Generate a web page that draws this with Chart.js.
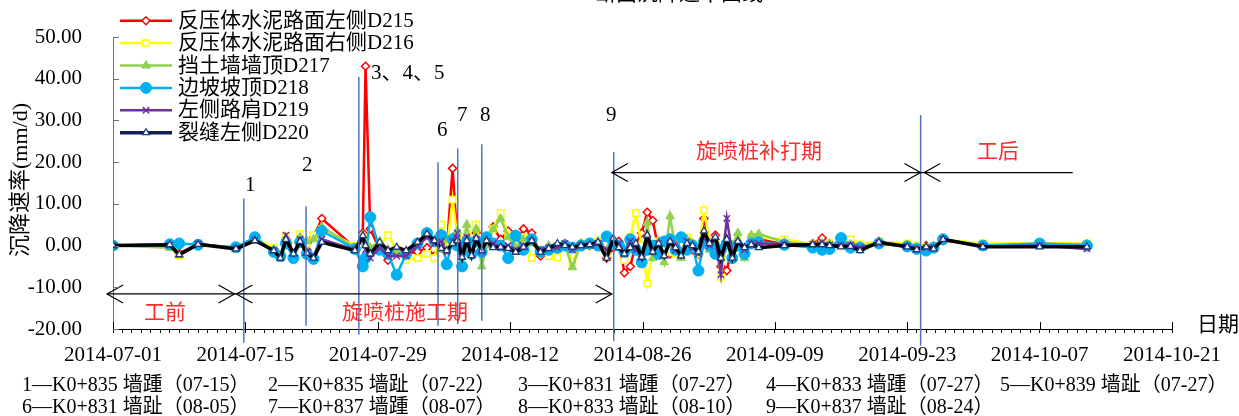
<!DOCTYPE html>
<html><head><meta charset="utf-8">
<script src="https://cdn.jsdelivr.net/npm/chart.js@4.4.1/dist/chart.umd.min.js"></script>
<style>
html,body{margin:0;padding:0;background:#fff;}
#wrap{position:relative;width:1239px;height:416px;overflow:hidden;font-family:"Liberation Serif","Noto Sans CJK SC",serif;}
canvas{position:absolute;left:0;top:0;}
.t{position:absolute;white-space:nowrap;line-height:1;font-size:21px;color:#000;}
.f{font-size:20px;}
.red{color:#ff2a2a;}
</style></head>
<body><div id="wrap"><canvas id="c" width="1239" height="416"></canvas>
<div class="t" style="left:436px;top:-17px;">K0+830～K0+840断面沉降速率曲线</div>
<div class="t" style="left:178px;top:10px;">反压体水泥路面左侧D215</div>
<div class="t" style="left:178px;top:32px;">反压体水泥路面右侧D216</div>
<div class="t" style="left:178px;top:55px;">挡土墙墙顶D217</div>
<div class="t" style="left:178px;top:77px;">边坡坡顶D218</div>
<div class="t" style="left:178px;top:99px;">左侧路肩D219</div>
<div class="t" style="left:178px;top:122px;">裂缝左侧D220</div>
<div class="t" style="left:245px;top:174px;">1</div>
<div class="t" style="left:302px;top:154px;">2</div>
<div class="t" style="left:371px;top:62px;">3、4、5</div>
<div class="t" style="left:437px;top:119px;">6</div>
<div class="t" style="left:457px;top:104px;">7</div>
<div class="t" style="left:480px;top:104px;">8</div>
<div class="t" style="left:606px;top:104px;">9</div>
<div class="t red" style="left:144px;top:302px;">工前</div>
<div class="t red" style="left:342px;top:302px;">旋喷桩施工期</div>
<div class="t red" style="left:696px;top:141px;">旋喷桩补打期</div>
<div class="t red" style="left:977px;top:141px;">工后</div>
<div class="t" style="left:1197px;top:314px;">日期</div>
<div class="t" style="left:20px;top:180px;font-size:22px;transform:translate(-50%,-50%) rotate(-90deg);">沉降速率(mm/d)</div>
<div class="t f" style="left:22px;top:374px;">1—K0+835 墙踵（07-15）</div>
<div class="t f" style="left:268px;top:374px;">2—K0+835 墙趾（07-22）</div>
<div class="t f" style="left:518px;top:374px;">3—K0+831 墙踵（07-27）</div>
<div class="t f" style="left:766px;top:374px;">4—K0+833 墙踵（07-27）</div>
<div class="t f" style="left:1000px;top:374px;">5—K0+839 墙趾（07-27）</div>
<div class="t f" style="left:22px;top:396px;">6—K0+831 墙趾（08-05）</div>
<div class="t f" style="left:268px;top:396px;">7—K0+837 墙踵（08-07）</div>
<div class="t f" style="left:518px;top:396px;">8—K0+833 墙趾（08-10）</div>
<div class="t f" style="left:766px;top:396px;">9—K0+837 墙趾（08-24）</div>
</div>
<script>
const dates = ['07-01 00','07-07 00','07-08 00','07-10 00','07-14 00','07-16 00','07-18 00','07-18 17','07-19 07','07-20 02','07-20 19','07-21 12','07-22 05','07-23 02',
'07-26 14','07-27 10','07-27 17','07-28 05','07-29 05','07-30 02','07-31 00','08-01 00','08-02 05','08-03 05','08-04 00','08-04 17','08-05 07','08-05 22','08-06 10','08-06 22','08-07 10','08-07 22','08-08 10','08-09 00','08-09 12','08-10 05',
'08-11 00','08-11 19','08-12 14','08-13 10','08-14 07','08-15 05','08-16 02','08-17 00','08-17 19','08-18 14','08-19 12','08-20 10','08-21 07','08-22 05','08-22 22',
'08-23 12','08-24 02','08-24 17','08-25 07','08-25 22','08-26 12','08-27 02','08-27 17','08-28 07','08-28 22','08-29 12','08-30 02','08-30 17','08-31 07','08-31 22','09-01 12','09-02 02','09-02 17','09-03 07','09-03 22','09-04 12','09-05 02','09-05 19','09-06 12',
'09-07 07','09-10 00','09-13 00','09-14 00','09-14 19','09-16 00','09-17 00','09-18 00','09-20 00','09-23 00','09-24 00','09-25 00','09-25 19','09-26 19','10-01 00','10-07 00','10-12 00'];

const D215 = [0,0,-1.8,0.3,-0.6,1.5,-0.8,-2.5,1.5,-1,1.5,-1,2,6.5,
-0.5,3,43,4,-1,-3.5,-1,-2,-1.5,-0.5,-2.5,2,-1,18.5,1,-1,2,-1.5,3,-1,0.5,4.5,
1.5,3.5,0.5,4,3,-2.5,-0.5,-1,0.5,-0.5,0,0,0.5,-3,-0.5,
1,-6.5,-5,0.5,3,8,6,-1,1,-2,0,-1.5,1.5,-1,-2,6.5,1,2.5,-5,-6,0,0.5,-1,1,
1.5,0.3,0.5,1.8,0.5,0.3,0.5,0,1,0.2,-0.5,0,-0.5,1.2,0,0.5,0.3];
const D216 = [0,-0.3,-2.3,0.5,-0.8,1.8,-0.5,-2.2,2.2,0,2.8,0.5,2.5,4,
0,2,1,-1,0,2.5,-1,-3.5,-3,-2,-3,5,-1,11,2,-1.5,3,-2,5,-1,1,4,
7.8,2.5,0,2,-3,-1,-2.5,-2.8,0,-4,0.5,0,1,-2,0.5,
0,-3.5,2,7.8,0,-9,-1,1,-2,-1,-2,-1.5,2,0.5,-2,8.5,1,1.5,-7.5,2,-1,1,-1.5,2,
2,1.5,0.3,0.5,0.5,0,1.5,0.3,1,0.5,0,-0.3,-0.5,1.5,0.5,0.5,0.5];
const D217 = [0,-0.5,-2.2,0.3,-0.5,1.2,-1,-2.8,1,-2.5,2,1,1.5,4.5,
-0.5,1,0.5,-0.5,1,-1,-1.5,-2,0.5,2,1,-1,1.5,2,3.5,-1,5,-1.5,4,-5,0,4,
6.5,2,-0.5,1.5,0.5,-1.5,0,-1,0,-5.2,0.5,0,1,-1,1,
0,-1,1,0,-4.5,5.5,-3,1,-4,7,-1,-3,1.5,0.5,-1.5,2,-1,1,-2,1,0,3,-3,2.5,
2.8,0.8,0.3,0.5,0.3,0.2,0.3,-0.3,0.8,0,-0.5,-0.5,-0.2,1.5,0,0.3,0.3];
const D218 = [0,0.3,0.5,0.2,-0.4,2,-1.5,-2.5,0.5,-3,0.8,-2,-3.2,3.5,
-0.8,-5,-3,6.8,-1,-2,-7,-2,0.5,3,1,2.5,-4.5,1.5,0,-5,1,-2,1,-1.5,2,0.5,
0,-3,2.4,-1,1.5,-1.5,-1,-0.5,0,-0.5,0,0.5,0,2.2,0.5,
0,-1.5,1.5,-1,-4,-1,0,-2,1,1.5,-1,2,-1,0,-6,1,0,-2,-1,0.5,-3,0,-2,0.5,
0.8,0.2,-0.5,-1,-0.8,1.8,-0.5,-0.5,0.5,-0.2,-0.8,-1.2,-0.5,1.5,0,0.5,0];
const D219 = [0,0.1,-2,0.4,-0.7,1.2,-1.2,-3,2.5,-1.8,1.5,-1.5,-2.5,1.5,
-1,1.5,-1,-3,-0.5,-2.5,-2.5,-2.5,0,2,0.5,1,-1.5,1,3,-1.5,2,-2,1.5,-1.5,1,0.5,
-0.5,0,-1,0,1,-1,-0.5,-0.5,0.5,-1,0,0,0.5,-1,1,
0.5,-2,1,-1,-2,1,-1.5,0.5,-2,0.5,-1,-2,1,-0.5,-2,2,0,1.5,-7,6.5,-2,0.5,-1,0.5,
0.5,0.3,0.3,0.8,0.2,0,0.2,-0.5,0.5,-0.2,-0.8,-0.5,-0.5,1.5,-0.2,0,-0.8];
const D220 = [0,0.2,-2.2,0.3,-0.8,1.2,-1.2,-3,1.5,-2,1,-1.8,-3,0.8,
-1.2,2.4,0,-2,0.8,-1.2,-0.4,-1.2,0.8,2.8,1.2,-0.7,-1.2,0.5,1.2,-2.8,1.2,-2.4,1.7,-1.2,1.2,-0.5,
-0.4,-0.7,-1.6,-0.4,1.2,-1.6,-0.7,0.5,0,-0.4,0,0.2,0.8,-3,1.7,
-0.5,-2,-0.5,0.5,-2.8,2.5,-1.5,0.5,-2.5,1,-0.5,-2.5,0.5,0,-1.5,3.5,0.5,2,-3,1.5,-3,1,-0.5,0.2,
-0.5,0,0.2,0.2,0,-0.3,-0.2,-1.2,0.8,-0.3,-1,-0.3,-0.8,1.5,-0.3,-0.3,-0.3];

const yTicks = [-20,-10,0,10,20,30,40,50];
const xStart = '07-01 00', xEnd = '10-21 00';
// construction marker lines: date, top value, bottom value
const markDates = ['07-14 20','07-21 10','07-27 00','08-04 09','08-06 11','08-09 00','08-22 23','09-24 10'];
const markTop = [11.3,9.4,40.4,20,23.3,24.3,22.4,31.3];
const markBottom = [-23.3,-19.2,-21.4,-19.2,-18.8,-18,-22.9,-24];

function dayOf(s){
  const [md,h]=s.split(' ');
  const [m,d]=md.split('-').map(Number);
  return (Date.UTC(2014,m-1,d,Number(h||0)) - Date.UTC(2014,6,1))/86400000;
}
function fmt(v){
  const dt=new Date(Date.UTC(2014,6,1)+v*86400000);
  const p=n=>String(n).padStart(2,'0');
  return dt.getUTCFullYear()+'-'+p(dt.getUTCMonth()+1)+'-'+p(dt.getUTCDate());
}
const xs = dates.map(dayOf);
const FONT = '"Liberation Serif","Noto Sans CJK SC",serif';

const series = [
  {label:'D215',data:D215,color:'#FF0000',legend:'#FF0000',style:'rectRot',r:4,bg:'#FFFFFF',bw:1.5,lw:2.5,order:5},
  {label:'D216',data:D216,color:'#FFFF00',legend:'#FFFF00',style:'rect',r:4.5,bg:'#FFFFFF',bw:1.5,lw:2.5,order:4},
  {label:'D217',data:D217,color:'#92D050',legend:'#92D050',style:'triangle',r:5,bg:'#92D050',bw:1,lw:2.5,order:3},
  {label:'D218',data:D218,color:'#00B0F0',legend:'#00B0F0',style:'circle',r:5.5,bg:'#00B0F0',bw:1,lw:2.5,order:2},
  {label:'D219',data:D219,color:'#7030A0',legend:'#7030A0',style:'crossRot',r:4.5,bg:'#7030A0',bw:1.5,lw:2.5,order:1},
  {label:'D220',data:D220,color:'#000000',legend:'#0E1F5B',pcolor:'#1F3A7A',style:'triangle',r:4,bg:'#FFFFFF',bw:1.3,lw:3.5,order:0}
];

const datasets = series.map(s=>({
  label:s.label,
  data:s.data.map((v,i)=>({x:xs[i],y:v})),
  borderColor:s.color,
  borderWidth:s.lw,
  pointStyle:s.style,
  pointRadius:s.r,
  pointBackgroundColor:s.bg,
  pointBorderColor:s.pcolor||s.color,
  pointBorderWidth:s.bw,
  tension:0,
  order:s.order
}));

const deco = {
  id:'deco',
  afterDatasetsDraw(chart){
    const ctx=chart.ctx, X=chart.scales.x, Y=chart.scales.y, a=chart.chartArea;
    ctx.save();
    ctx.strokeStyle='#4A76C8'; ctx.lineWidth=1.5;
    markDates.forEach((d,i)=>{
      const x=X.getPixelForValue(dayOf(d));
      ctx.beginPath(); ctx.moveTo(x,Y.getPixelForValue(markTop[i])); ctx.lineTo(x,Y.getPixelForValue(markBottom[i])); ctx.stroke();
    });
    ctx.strokeStyle='#000'; ctx.lineWidth=1.2;
    function hline(x1,x2,y){ctx.beginPath();ctx.moveTo(x1,y);ctx.lineTo(x2,y);ctx.stroke();}
    function head(x,y,dir){ctx.beginPath();ctx.moveTo(x-dir*16,y-9);ctx.lineTo(x,y);ctx.lineTo(x-dir*16,y+9);ctx.stroke();}
    const y1=Y.getPixelForValue(-11.6), y2=Y.getPixelForValue(17.5);
    const p=v=>X.getPixelForValue(v);
    hline(p(-0.63),p(52.75),y1);
    head(p(-0.63),y1,-1); head(p(12.85),y1,1); head(p(13.05),y1,-1); head(p(52.75),y1,1);
    hline(p(52.75),p(101.5),y2);
    head(p(52.75),y2,-1); head(p(85.4),y2,1); head(p(85.8),y2,-1);
    ctx.strokeStyle='#707070'; ctx.lineWidth=1;
    yTicks.forEach(v=>{const y=Math.round(Y.getPixelForValue(v))+0.5;ctx.beginPath();ctx.moveTo(a.left,y);ctx.lineTo(a.left+6,y);ctx.stroke();});
    ctx.strokeStyle='#000';
    for(let d=0; d<=112; d+=14){const x=Math.round(X.getPixelForValue(d))+0.5;ctx.beginPath();ctx.moveTo(x,a.bottom);ctx.lineTo(x,a.bottom-7);ctx.stroke();}
    const H=Chart.helpers;
    series.forEach((s,i)=>{
      const y=20.7+i*22.4;
      ctx.strokeStyle=s.legend; ctx.lineWidth=s.lw;
      ctx.beginPath();ctx.moveTo(120,y);ctx.lineTo(172,y);ctx.stroke();
      ctx.fillStyle=s.bg; ctx.strokeStyle=s.pcolor||s.color; ctx.lineWidth=s.bw;
      if(H && H.drawPoint){H.drawPoint(ctx,{pointStyle:s.style,radius:s.r,rotation:0,borderWidth:s.bw},146,y);}
    });
    ctx.restore();
  }
};

new Chart(document.getElementById('c'),{
  type:'line',
  data:{datasets},
  options:{
    responsive:false, animation:false, devicePixelRatio:1,
    layout:{padding:{left:0,right:67,top:37,bottom:0}},
    plugins:{legend:{display:false},tooltip:{enabled:false}},
    scales:{
      x:{type:'linear',min:dayOf(xStart),max:dayOf(xEnd),
        afterFit(s){s.height=87;},
        grid:{display:true,drawOnChartArea:false,drawTicks:true,tickLength:4,color:'#000',lineWidth:1},
        border:{display:true,color:'#000',width:1},
        ticks:{stepSize:1,autoSkip:false,maxRotation:0,padding:10,color:'#000',font:{family:FONT,size:21},
          callback:v=> (Math.round(v)%14===0 ? fmt(v) : '')}
      },
      y:{min:-20,max:50,
        afterFit(s){s.width=113;},
        grid:{display:false},
        border:{display:true,color:'#707070',width:1},
        ticks:{stepSize:10,padding:23,color:'#000',font:{family:FONT,size:21},callback:v=>Number(v).toFixed(2)}
      }
    }
  },
  plugins:[deco]
});
</script>
</body></html>
